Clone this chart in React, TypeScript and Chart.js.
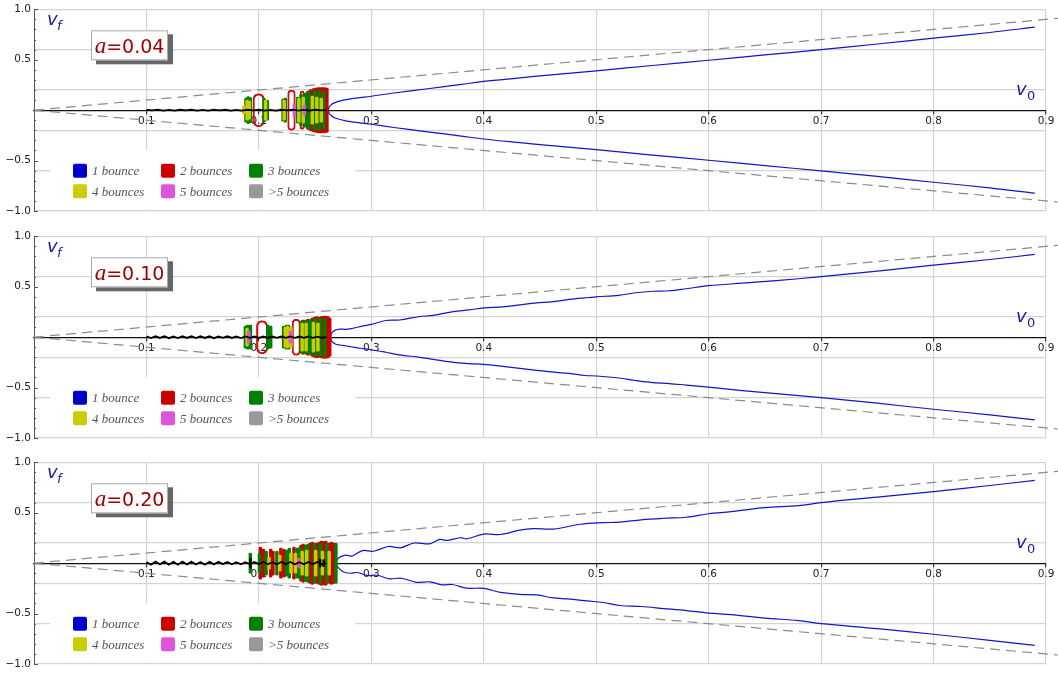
import React, { useEffect, useRef } from 'react';
import { Chart, registerables } from 'chart.js';

Chart.register(...registerables);

// ---------- axes & legend ----------
const X_MIN = 0;
const X_MAX = 0.9;
const xTickValues = [0.1, 0.2, 0.3, 0.4, 0.5, 0.6, 0.7, 0.8, 0.9];
const yTickValues = [-1, -0.6, -0.5, -0.2, 0.2, 0.5, 0.6, 1];
const yLabelValues = [-1, -0.5, 0.5, 1];
const yGridValues = [-1, -0.6, -0.2, 0.2, 0.6, 1];
const yMinorValues = [-1, -0.9, -0.8, -0.7, -0.6, -0.5, -0.4, -0.3, -0.2, -0.1, 0.1, 0.2, 0.3, 0.4, 0.5, 0.6, 0.7, 0.8, 0.9, 1];
const bounceLabels = ['1 bounce', '2 bounces', '3 bounces', '4 bounces', '5 bounces', '>5 bounces'];
const bounceColors = ['#0000cc', '#cc0000', '#008000', '#cccc00', '#dd55dd', '#999999'];
const aValues = ['0.04', '0.10', '0.20'];

// ---------- panel 1 (a = 0.04) ----------
const p1BranchV0 = [0.2615, 0.2625, 0.264, 0.2665, 0.27, 0.275, 0.28, 0.29, 0.3, 0.32, 0.35, 0.38, 0.4, 0.43, 0.46, 0.5, 0.55, 0.6, 0.65, 0.7, 0.75, 0.8, 0.85, 0.89];
const p1UpperVf = [0, 0.03, 0.05, 0.07, 0.084, 0.099, 0.11, 0.124, 0.138, 0.17, 0.212, 0.255, 0.285, 0.318, 0.35, 0.39, 0.443, 0.495, 0.548, 0.6, 0.656, 0.714, 0.77, 0.823];
const p1LowerVf = [0, -0.03, -0.05, -0.07, -0.085, -0.1, -0.112, -0.126, -0.14, -0.172, -0.215, -0.257, -0.286, -0.32, -0.352, -0.392, -0.445, -0.497, -0.55, -0.602, -0.657, -0.715, -0.77, -0.823];
const p1NoiseV0 = [0.1, 0.105, 0.11, 0.115, 0.12, 0.125, 0.13, 0.135, 0.14, 0.145, 0.15, 0.155, 0.16, 0.165, 0.17, 0.175, 0.18, 0.185, 0.19, 0.195, 0.2, 0.205, 0.21, 0.215, 0.22, 0.225, 0.23, 0.235, 0.24, 0.245, 0.25, 0.255, 0.26];
const p1NoiseVf = [0.004, -0.003, 0.005, -0.004, 0.003, -0.005, 0.004, -0.003, 0.005, -0.004, 0.003, -0.004, 0.005, -0.003, 0.004, -0.005, 0.003, -0.004, 0.004, -0.003, 0.005, -0.004, 0.003, -0.005, 0.004, -0.003, 0.005, -0.004, 0.003, -0.005, 0.004, -0.003, 0];
const p1Red = [[0.2435, 0.19], [0.246, 0.205], [0.2485, 0.215], [0.2505, 0.22], [0.2525, 0.225], [0.2545, 0.225], [0.2565, 0.225], [0.2585, 0.225], [0.2605, 0.22]];
const p1Green = [[0.1885, 0.12], [0.1905, 0.135], [0.1925, 0.125], [0.2045, 0.12], [0.2075, 0.1], [0.2215, 0.11], [0.2235, 0.12], [0.2345, 0.13], [0.2375, 0.16], [0.2415, 0.17], [0.2445, 0.19], [0.2495, 0.2], [0.2535, 0.2], [0.2575, 0.19]];
const p1Yellow = [[0.1865, 0.04], [0.1895, 0.1], [0.1915, 0.09], [0.206, 0.1], [0.2225, 0.1], [0.2355, 0.12], [0.2395, 0.13], [0.2475, 0.14], [0.2515, 0.13], [0.2555, 0.12]];
const p1Magenta = [[0.2315, 0.07], [0.2405, 0.05]];
const p1Rings = [[0.1948, 0.2048, 0.165], [0.2256, 0.2324, 0.2], [0.2365, 0.2405, 0.19]];
const p1Spikes: number[][] = [];

// ---------- panel 2 (a = 0.10) ----------
const p2BranchV0 = [0.2635, 0.265, 0.268, 0.272, 0.277, 0.282, 0.29, 0.3, 0.313, 0.325, 0.343, 0.355, 0.373, 0.387, 0.4, 0.417, 0.432, 0.447, 0.46, 0.476, 0.49, 0.5, 0.52, 0.535, 0.55, 0.565, 0.58, 0.6, 0.63, 0.66, 0.7, 0.75, 0.8, 0.85, 0.89];
const p2UpperVf = [0, 0.045, 0.07, 0.08, 0.078, 0.085, 0.105, 0.126, 0.165, 0.17, 0.205, 0.215, 0.254, 0.27, 0.29, 0.3, 0.32, 0.34, 0.35, 0.374, 0.39, 0.4, 0.415, 0.44, 0.455, 0.46, 0.48, 0.51, 0.535, 0.56, 0.6, 0.655, 0.715, 0.77, 0.82];
const p2LowerVf = [0, -0.045, -0.068, -0.078, -0.085, -0.095, -0.11, -0.125, -0.15, -0.175, -0.2, -0.22, -0.25, -0.262, -0.27, -0.29, -0.31, -0.33, -0.345, -0.36, -0.38, -0.385, -0.405, -0.43, -0.45, -0.46, -0.475, -0.495, -0.53, -0.56, -0.6, -0.655, -0.715, -0.77, -0.82];
const noiseV0 = [0.1, 0.104, 0.108, 0.112, 0.116, 0.12, 0.124, 0.128, 0.132, 0.136, 0.14, 0.144, 0.148, 0.152, 0.156, 0.16, 0.164, 0.168, 0.172, 0.176, 0.18, 0.184, 0.188, 0.192, 0.196, 0.2, 0.204, 0.208, 0.212, 0.216, 0.22, 0.224, 0.228, 0.232, 0.236, 0.24, 0.244, 0.248, 0.252, 0.256, 0.26];
const p2NoiseVf = [0.008, -0.009, 0.01, -0.008, 0.009, -0.01, 0.008, -0.009, 0.01, -0.008, 0.009, -0.009, 0.01, -0.008, 0.009, -0.01, 0.008, -0.007, 0.009, -0.008, 0.007, -0.009, 0.008, -0.007, 0.008, -0.008, 0.007, -0.008, 0.006, -0.007, 0.008, -0.006, 0.007, -0.007, 0.006, -0.007, 0.006, -0.006, 0.005, -0.006, 0];
const p2Red = [[0.239, 0.17], [0.2435, 0.18], [0.2475, 0.19], [0.2495, 0.2], [0.2515, 0.205], [0.2535, 0.2], [0.2555, 0.205], [0.2575, 0.21], [0.2595, 0.21], [0.2615, 0.205], [0.263, 0.19]];
const p2Green = [[0.188, 0.11], [0.19, 0.12], [0.1925, 0.12], [0.208, 0.12], [0.2105, 0.11], [0.222, 0.11], [0.2245, 0.12], [0.2265, 0.12], [0.2375, 0.16], [0.2405, 0.17], [0.2445, 0.17], [0.2465, 0.18], [0.2505, 0.19], [0.2545, 0.19], [0.2585, 0.19]];
const p2Yellow = [[0.1895, 0.09], [0.2235, 0.1], [0.2255, 0.11], [0.2285, 0.1], [0.2385, 0.14], [0.242, 0.14], [0.2485, 0.15], [0.2525, 0.14]];
const p2Magenta = [[0.191, 0.06], [0.228, 0.06]];
const p2Rings = [[0.1978, 0.2078, 0.165], [0.2295, 0.2369, 0.18]];
const p2Spikes: number[][] = [];

// ---------- panel 3 (a = 0.20) ----------
const p3UpperV0 = [0.268, 0.27, 0.273, 0.277, 0.283, 0.292, 0.302, 0.315, 0.326, 0.338, 0.352, 0.361, 0.367, 0.379, 0.385, 0.4, 0.415, 0.432, 0.444, 0.462, 0.486, 0.506, 0.521, 0.54, 0.56, 0.58, 0.6, 0.62, 0.65, 0.68, 0.7, 0.75, 0.8, 0.85, 0.89];
const p3UpperVf = [0, 0.04, 0.065, 0.08, 0.07, 0.125, 0.118, 0.165, 0.152, 0.2, 0.192, 0.235, 0.225, 0.252, 0.242, 0.288, 0.284, 0.328, 0.343, 0.338, 0.386, 0.401, 0.406, 0.43, 0.445, 0.455, 0.49, 0.51, 0.55, 0.57, 0.6, 0.655, 0.71, 0.77, 0.82];
const p3LowerV0 = [0.268, 0.271, 0.275, 0.281, 0.288, 0.296, 0.305, 0.316, 0.327, 0.34, 0.352, 0.363, 0.372, 0.385, 0.4, 0.415, 0.432, 0.447, 0.462, 0.475, 0.492, 0.506, 0.521, 0.54, 0.56, 0.58, 0.6, 0.62, 0.65, 0.68, 0.7, 0.75, 0.8, 0.85, 0.89];
const p3LowerVf = [0, -0.05, -0.085, -0.1, -0.093, -0.122, -0.12, -0.155, -0.15, -0.19, -0.185, -0.215, -0.212, -0.248, -0.25, -0.29, -0.31, -0.315, -0.345, -0.355, -0.375, -0.39, -0.42, -0.43, -0.45, -0.47, -0.495, -0.51, -0.545, -0.57, -0.6, -0.65, -0.705, -0.765, -0.815];
const p3NoiseVf = [0.012, -0.015, 0.016, -0.012, 0.015, -0.016, 0.013, -0.015, 0.016, -0.013, 0.015, -0.014, 0.012, -0.015, 0.013, -0.012, 0.014, -0.01, 0.012, -0.011, 0.009, -0.012, 0.01, -0.009, 0.011, -0.01, 0.012, -0.011, 0.01, -0.012, 0.011, -0.01, 0.012, -0.011, 0.01, -0.012, 0.011, -0.01, 0.012, -0.011, 0];
const p3Red = [[0.2013, 0.16], [0.204, 0.14], [0.2105, 0.14], [0.2125, 0.12], [0.2195, 0.15], [0.2222, 0.14], [0.2312, 0.16], [0.2375, 0.18], [0.2395, 0.19], [0.2455, 0.2], [0.2475, 0.21], [0.2515, 0.2], [0.2535, 0.21], [0.2555, 0.22], [0.2575, 0.215], [0.2595, 0.22], [0.2625, 0.2], [0.2645, 0.21], [0.2665, 0.2]];
const p3Green = [[0.1924, 0.1], [0.2005, 0.1], [0.2065, 0.12], [0.216, 0.12], [0.2245, 0.13], [0.227, 0.15], [0.234, 0.15], [0.2365, 0.16], [0.2415, 0.18], [0.2435, 0.19], [0.2495, 0.2], [0.2545, 0.2], [0.2605, 0.2], [0.2685, 0.2]];
const p3Yellow = [[0.209, 0.06], [0.2185, 0.08], [0.2285, 0.1], [0.2325, 0.1], [0.2385, 0.12], [0.2425, 0.13], [0.2505, 0.13], [0.2565, 0.12], [0.2625, 0.12]];
const p3Magenta = [[0.2355, 0.05]];
const p3Rings: number[][] = [];
const p3Spikes = [[0.1925, 0.05], [0.2545, 0.04], [0.2575, 0.035]];

// dashed guide lines v_f = ±v_0
const guideV0 = [0, 0.912];
const guideUpper = [0, 0.912];
const guideLower = [0, -0.912];

interface PanelSpec {
  aText: string;
  upperV0: number[]; upperVf: number[];
  lowerV0: number[]; lowerVf: number[];
  noiseV0: number[]; noiseVf: number[];
  red: number[][]; green: number[][]; yellow: number[][]; magenta: number[][];
  rings: number[][]; spikes: number[][];
}

const panels: PanelSpec[] = [
  { aText: aValues[0], upperV0: p1BranchV0, upperVf: p1UpperVf, lowerV0: p1BranchV0, lowerVf: p1LowerVf, noiseV0: p1NoiseV0, noiseVf: p1NoiseVf, red: p1Red, green: p1Green, yellow: p1Yellow, magenta: p1Magenta, rings: p1Rings, spikes: p1Spikes },
  { aText: aValues[1], upperV0: p2BranchV0, upperVf: p2UpperVf, lowerV0: p2BranchV0, lowerVf: p2LowerVf, noiseV0: noiseV0, noiseVf: p2NoiseVf, red: p2Red, green: p2Green, yellow: p2Yellow, magenta: p2Magenta, rings: p2Rings, spikes: p2Spikes },
  { aText: aValues[2], upperV0: p3UpperV0, upperVf: p3UpperVf, lowerV0: p3LowerV0, lowerVf: p3LowerVf, noiseV0: noiseV0, noiseVf: p3NoiseVf, red: p3Red, green: p3Green, yellow: p3Yellow, magenta: p3Magenta, rings: p3Rings, spikes: p3Spikes },
];

const CANVAS_W = 1058;
const CANVAS_H = 226;
const PAD = { left: 0, right: 12, top: 9, bottom: 15 };
const Y_AXIS_W = 34;
const PLOT_W = CANVAS_W - PAD.left - PAD.right - Y_AXIS_W;

const toXY = (xs: number[], ys: number[]) => xs.map((x, i) => ({ x, y: ys[i] }));
const toBars = (pairs: number[][]) => pairs.map(([x, h]) => ({ x, y: [-h, h] }));
const fmt = (v: number) => (v < 0 ? '\u2212' : '') + Math.abs(v).toFixed(1);

function buildDatasets(p: PanelSpec) {
  const ds: any[] = [];
  const bar = (pairs: number[][], color: string, order: number, thick = 2.8) => ({
    type: 'bar', data: toBars(pairs), backgroundColor: color, borderWidth: 0,
    barThickness: thick, borderRadius: 1.4, borderSkipped: false, grouped: false, order,
  });
  ds.push({ type: 'line', data: toXY(p.noiseV0, p.noiseVf), borderColor: '#000', borderWidth: 1.8, pointRadius: 0, tension: 0, order: 0 });
  if (p.spikes.length) ds.push(bar(p.spikes, '#000', 0, 1.6));
  ds.push(bar(p.magenta, bounceColors[4], 1));
  ds.push(bar(p.yellow, bounceColors[3], 2));
  ds.push(bar(p.green, bounceColors[2], 3));
  p.rings.forEach(([s, e, h]) => {
    ds.push({
      type: 'bar', data: [{ x: (s + e) / 2, y: [-h, h] }], backgroundColor: 'rgba(0,0,0,0)',
      borderColor: '#d01010', borderWidth: 1.3, borderSkipped: false, borderRadius: 30,
      barThickness: ((e - s) / (X_MAX - X_MIN)) * PLOT_W, grouped: false, order: 4,
    });
  });
  ds.push(bar(p.red, bounceColors[1], 5));
  ds.push({ type: 'line', data: toXY(p.upperV0, p.upperVf), borderColor: '#1414c8', borderWidth: 1.2, pointRadius: 0, tension: 0.35, order: 6 });
  ds.push({ type: 'line', data: toXY(p.lowerV0, p.lowerVf), borderColor: '#1414c8', borderWidth: 1.2, pointRadius: 0, tension: 0.35, order: 6 });
  ds.push({ type: 'line', data: toXY(guideV0, guideUpper), borderColor: '#8c8c8c', borderWidth: 1.2, borderDash: [10, 6], pointRadius: 0, clip: false, order: 7 });
  ds.push({ type: 'line', data: toXY(guideV0, guideLower), borderColor: '#8c8c8c', borderWidth: 1.2, borderDash: [10, 6], pointRadius: 0, clip: false, order: 7 });
  return ds;
}

function makeDecor(aText: string) {
  return {
    id: 'decor',
    beforeDatasetsDraw(chart: any) {
      const { ctx, chartArea: ca, scales } = chart;
      const ys = scales.y;
      ctx.save();
      ctx.strokeStyle = '#555';
      ctx.lineWidth = 1;
      yMinorValues.forEach((v) => {
        const py = Math.round(ys.getPixelForValue(v)) + 0.5;
        const len = yLabelValues.includes(v) ? 4 : 2;
        ctx.beginPath();
        ctx.moveTo(ca.left, py);
        ctx.lineTo(ca.left + len, py);
        ctx.stroke();
      });
      // legend
      ctx.fillStyle = '#ffffff';
      ctx.fillRect(ca.left + 16, ca.top + 141, 305, 59);
      const colX = [39, 127, 215];
      const rowY = [161.5, 182];
      ctx.font = 'italic 13px "Liberation Serif"';
      ctx.textBaseline = 'alphabetic';
      ctx.textAlign = 'left';
      bounceLabels.forEach((lab, i) => {
        const cx = ca.left + colX[i % 3];
        const cy = ca.top + rowY[Math.floor(i / 3)];
        ctx.fillStyle = bounceColors[i];
        ctx.beginPath();
        if (ctx.roundRect) ctx.roundRect(cx, cy - 7, 14, 14, 2); else ctx.rect(cx, cy - 7, 14, 14);
        ctx.fill();
        ctx.fillStyle = '#555';
        ctx.fillText(lab, cx + 19, cy + 4.5);
      });
      ctx.restore();
    },
    afterDatasetsDraw(chart: any) {
      const { ctx, chartArea: ca, scales } = chart;
      const ys = scales.y;
      ctx.save();
      // parameter box
      const bx = ca.left + 57, by = ca.top + 21, bw = 77, bh = 30;
      ctx.fillStyle = '#666';
      ctx.fillRect(bx + 5, by + 4, bw, bh);
      ctx.fillStyle = '#fff';
      ctx.fillRect(bx, by, bw, bh);
      ctx.strokeStyle = '#aaa';
      ctx.lineWidth = 1;
      ctx.strokeRect(bx + 0.5, by + 0.5, bw - 1, bh - 1);
      const fA = 'italic 23px "Liberation Serif"';
      const fR = '19px "DejaVu Sans"';
      ctx.font = fA; const wA = ctx.measureText('a').width;
      ctx.font = fR; const wR = ctx.measureText('=' + aText).width;
      const tx = bx + bw / 2 - (wA + wR) / 2;
      const tb = by + 23;
      ctx.fillStyle = '#a00000';
      ctx.font = fA; ctx.fillText('a', tx, tb);
      ctx.font = fR; ctx.fillText('=' + aText, tx + wA, tb);
      // axis labels
      ctx.fillStyle = '#20209a';
      ctx.font = 'italic 18px "DejaVu Sans"';
      ctx.fillText('v', ca.left + 13, ca.top + 16);
      ctx.font = 'italic 13px "DejaVu Sans"';
      ctx.fillText('f', ca.left + 23, ca.top + 21);
      const axisY = ys.getPixelForValue(0);
      ctx.font = 'italic 18px "DejaVu Sans"';
      ctx.fillText('v', ca.right - 30, axisY - 15);
      ctx.font = '13px "DejaVu Sans"';
      ctx.fillText('0', ca.right - 19, axisY - 10);
      ctx.restore();
    },
  };
}

function Panel({ spec, top }: { spec: PanelSpec; top: number }) {
  const ref = useRef<HTMLCanvasElement>(null);
  useEffect(() => {
    if (!ref.current) return;
    const chart = new Chart(ref.current, {
      type: 'line',
      data: { datasets: buildDatasets(spec) as any },
      options: {
        responsive: false,
        animation: false,
        devicePixelRatio: 1,
        events: [],
        layout: { padding: PAD, autoPadding: false } as any,
        plugins: { legend: { display: false }, tooltip: { enabled: false } },
        scales: {
          x: {
            type: 'linear', min: X_MIN, max: X_MAX, offset: false,
            position: { y: 0 } as any,
            afterBuildTicks: (s: any) => { s.ticks = xTickValues.map((v) => ({ value: v })); },
            ticks: { autoSkip: false, maxRotation: 0, padding: 2, color: '#222', font: { family: '"DejaVu Sans"', size: 10.5 }, callback: (v: any) => Number(v).toFixed(1) },
            grid: { color: '#d4d4d4', lineWidth: 1.2, tickLength: 3, tickColor: '#333', offset: false },
            border: { display: true, color: '#111', width: 1.2 },
          },
          y: {
            type: 'linear', min: -1, max: 1, position: 'left',
            afterBuildTicks: (s: any) => { s.ticks = yTickValues.map((v) => ({ value: v })); },
            afterFit: (s: any) => { s.width = Y_AXIS_W; },
            ticks: { padding: 3, color: '#222', font: { family: '"DejaVu Sans"', size: 10.5 }, callback: (v: any) => (yLabelValues.includes(Number(v)) ? fmt(Number(v)) : '') },
            grid: { drawTicks: false, lineWidth: 1.2, color: (c: any) => (yGridValues.includes(c.tick?.value) ? '#d4d4d4' : 'rgba(0,0,0,0)') },
            border: { display: true, color: '#555', width: 1 },
          },
        } as any,
      },
      plugins: [makeDecor(spec.aText)],
    });
    return () => chart.destroy();
  }, [spec]);
  return <canvas ref={ref} width={CANVAS_W} height={CANVAS_H} style={{ position: 'absolute', left: 0, top, width: CANVAS_W, height: CANVAS_H }} />;
}

const panelTops = [0, 227, 453];

export default function App() {
  return (
    <div style={{ position: 'absolute', left: 0, top: 0, width: 1058, height: 675, overflow: 'hidden', background: '#fff' }}>
      {panels.map((p, i) => (
        <Panel key={i} spec={p} top={panelTops[i]} />
      ))}
    </div>
  );
}
